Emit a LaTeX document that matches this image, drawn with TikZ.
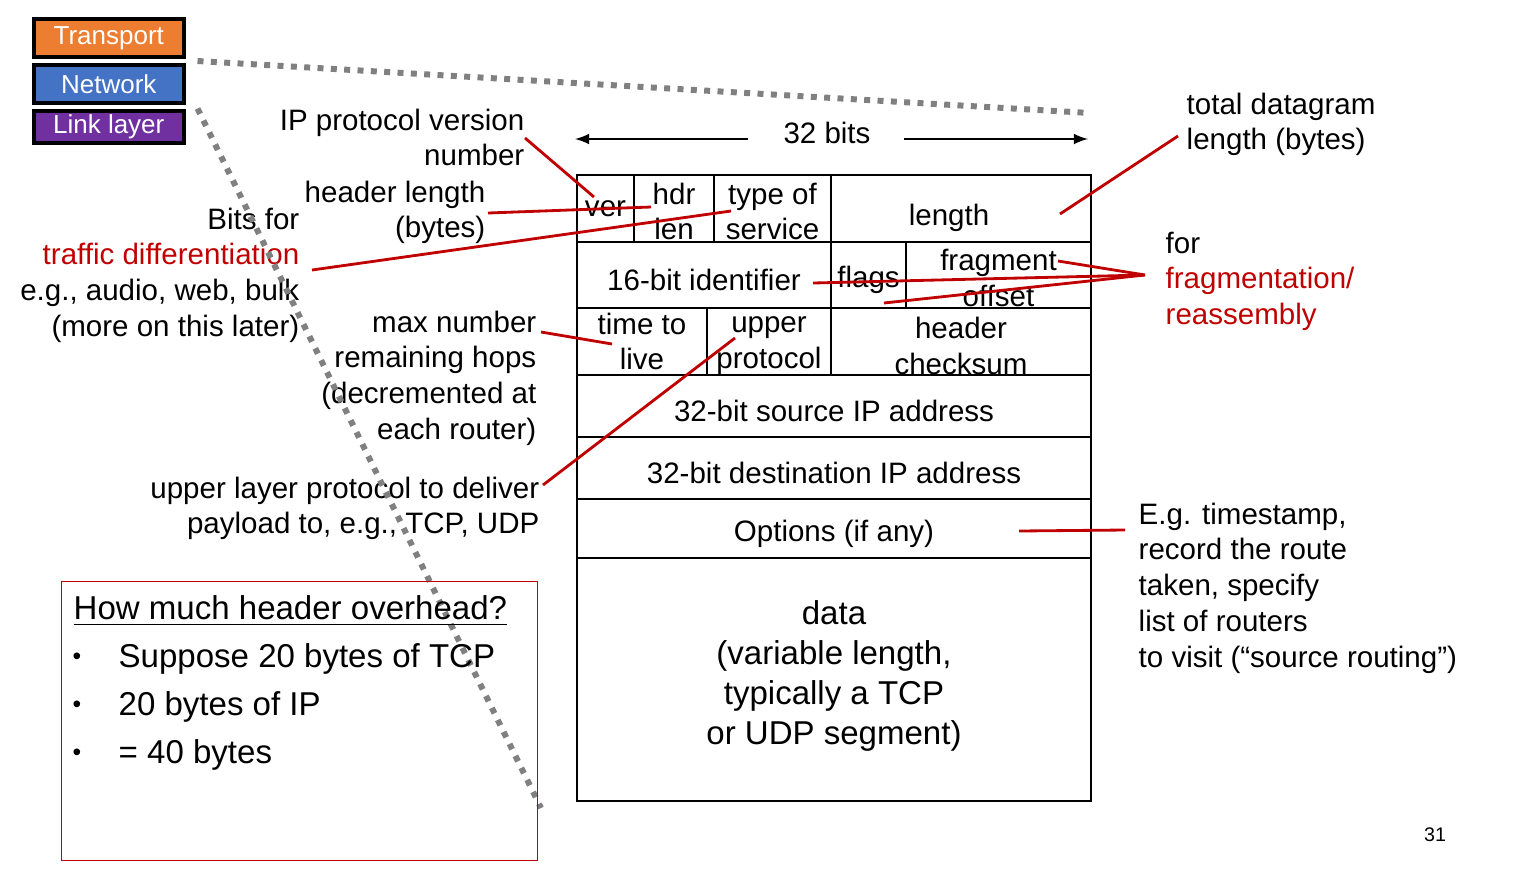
\documentclass[tikz,border=0pt]{standalone}
\usepackage{fontspec}
\setmainfont{Liberation Sans}
\usepackage{tikz}
\usetikzlibrary{chains,positioning}

\definecolor{annot}{HTML}{C00000}
\definecolor{tporange}{HTML}{ED7D31}
\definecolor{nwblue}{HTML}{4472C4}
\definecolor{lkpurple}{HTML}{7030A0}

\begin{document}
\begin{tikzpicture}[
    field/.style={draw,thick,inner sep=0pt,outer sep=0pt,align=center,font=\fontsize{8.4}{10.2}\selectfont},
    single/.style={execute at begin node={\rule{0pt}{9pt}}},
    note/.style={inner sep=0pt,align=right,font=\fontsize{8.4}{10.2}\selectfont},
    layer/.style={draw,line width=1pt,text=white,minimum width=1.50cm,inner sep=0pt,font=\fontsize{7.4}{8}\selectfont},
    pointer/.style={annot,line width=0.8pt},
    dotline/.style={gray,line width=1.7pt,dash pattern=on 1.7pt off 2.1pt}]
  \useasboundingbox (0,0) rectangle (15.38,-8.71);

  % protocol stack
  \begin{scope}[start chain=stack going below,node distance=0.45mm,shift={(0.32,-0.17)}]
    \node [layer,on chain=stack,anchor=north west,fill=tporange,minimum height=0.38cm] (tp) {Transport};
    \node [layer,on chain=stack,fill=nwblue,minimum height=0.38cm] (nw) {Network};
    \node [layer,on chain=stack,fill=lkpurple,minimum height=0.32cm] (lk) {Link layer};
  \end{scope}

  % datagram header, row by row
  \begin{scope}[start chain=r1 going right,node distance=0pt,shift={(5.77,-1.75)},
      field/.append style={minimum height=0.67cm}]
    \node [field,on chain=r1,anchor=north west,minimum width=0.57cm] (ver) {ver};
    \node [field,on chain=r1,minimum width=0.80cm] (hdr) {\rule{0pt}{7.8pt}hdr\\len};
    \node [field,on chain=r1,minimum width=1.17cm] (tos) {\rule{0pt}{7.8pt}type of\\service};
    \node [field,on chain=r1,minimum width=2.60cm] (len) {\rule{0pt}{11.5pt}length\hspace*{0.24cm}};
  \end{scope}
  \begin{scope}[start chain=r2 going right,node distance=0pt,shift={(5.77,-2.42)},
      field/.append style={minimum height=0.66cm}]
    \node [field,single,on chain=r2,anchor=north west,minimum width=2.54cm] (ident) {16-bit identifier};
    \node [field,single,on chain=r2,minimum width=0.75cm] (flags) {flags};
    \node [field,on chain=r2,minimum width=1.85cm] (frag) {\rule{0pt}{7.8pt}fragment\\offset};
  \end{scope}
  \begin{scope}[start chain=r3 going right,node distance=0pt,shift={(5.77,-3.08)},
      field/.append style={minimum height=0.67cm}]
    \node [field,on chain=r3,anchor=north west,minimum width=1.30cm] (ttl) {time to\\live};
    \node [field,on chain=r3,minimum width=1.24cm] (proto) {\rule{0pt}{7pt}upper\\protocol};
    \node [field,on chain=r3,minimum width=2.60cm] (csum) {\rule{0pt}{8.4pt}header\\checksum};
  \end{scope}
  \begin{scope}[start chain=body going below,node distance=0pt,shift={(5.77,-3.75)},
      field/.append style={minimum width=5.14cm}]
    \node [field,single,on chain=body,anchor=north west,minimum height=0.62cm] (src) {32-bit source IP address};
    \node [field,single,on chain=body,minimum height=0.62cm] (dst) {32-bit destination IP address};
    \node [field,single,on chain=body,minimum height=0.59cm] (opts) {Options (if any)};
    \node [field,on chain=body,minimum height=2.43cm,font=\fontsize{9.4}{11.4}\selectfont,
      execute at end node={\rule[-4.2pt]{0pt}{0pt}}] (data)
      {data\\(variable length,\\typically a TCP\\or UDP segment)};
  \end{scope}

  % width of a row
  \node [note,align=center] (width32) at (8.27,-1.33) {32 bits};
  \coordinate (w32) at (5.75,-1.39);
  \coordinate (e32) at (10.88,-1.39);
  \draw [->,>=latex] ([shift={(-0.35,-0.06)}]width32.west) -- (w32);
  \draw [->,>=latex] ([shift={(0.33,-0.06)}]width32.east) -- (e32);

  % notes on the left
  \node [note,anchor=north east] (ipver) at (5.25,-1.08) {IP protocol version\\number};
  \node [note,anchor=north east] (hlen) at (4.86,-1.80) {header length\\(bytes)};
  \node [note,anchor=north east] (tosnote) at (3.00,-2.07)
    {Bits for\\\textcolor{annot}{traffic differentiation}\\e.g., audio, web, bulk\\(more on this later)};
  \node [note,anchor=north east] (hops) at (5.37,-3.10)
    {max number\\remaining hops\\(decremented at\\each router)};
  \node [note,anchor=north east] (deliver) at (5.40,-4.76)
    {upper layer protocol to deliver\\payload to, e.g., TCP, UDP};

  % notes on the right
  \node [note,align=left,anchor=north west] (total) at (11.86,-0.92) {total datagram\\length (bytes)};
  \node [note,align=left,anchor=north west] (fragnote) at (11.65,-2.31)
    {for\\\textcolor{annot}{fragmentation/}\\\textcolor{annot}{reassembly}};
  \node [note,align=left,anchor=north west] (optnote) at (11.38,-5.02)
    {E.g. timestamp,\\record the route\\taken, specify\\list of routers\\to visit (“source routing”)};

  % where the notes point
  \coordinate (ver-tip) at (5.94,-1.97);
  \coordinate (hdr-tip) at (6.51,-2.07);
  \coordinate (tos-tip) at (7.31,-2.11);
  \coordinate (ttl-tip) at (6.12,-3.44);
  \coordinate (proto-tip) at (7.35,-3.38);
  \coordinate (len-tip) at (10.60,-2.14);
  \coordinate (frag-tip) at (10.58,-2.61);
  \coordinate (id-tip) at (8.13,-2.83);
  \coordinate (off-tip) at (8.84,-3.03);
  \coordinate (opt-tip) at (10.19,-5.31);
  \coordinate (frag-hub) at ([shift={(-0.20,-0.44)}]fragnote.north west);

  \draw [pointer] ([shift={(0,-0.30)}]ipver.north east) -- (ver-tip);
  \draw [pointer] ([shift={(0.02,-0.33)}]hlen.north east) -- (hdr-tip);
  \draw [pointer] ([shift={(0.12,-0.63)}]tosnote.north east) -- (tos-tip);
  \draw [pointer] ([shift={(0.04,-0.22)}]hops.north east) -- (ttl-tip);
  \draw [pointer] ([shift={(0.03,-0.09)}]deliver.north east) -- (proto-tip);
  \draw [pointer] ([shift={(-0.08,-0.44)}]total.north west) -- (len-tip);
  \draw [pointer] (frag-tip) -- (frag-hub) -- (id-tip);
  \draw [pointer] (frag-hub) -- (off-tip);
  \draw [pointer] ([shift={(-0.13,-0.28)}]optnote.north west) -- (opt-tip);

  % zoom lines from the network layer
  \coordinate (dg-top) at (10.90,-1.13);
  \coordinate (dg-bot) at (5.41,-8.08);
  \draw [dotline] ([shift={(0.12,0.02)}]nw.north east) -- (dg-top);
  \draw [dotline] ([shift={(0.12,-0.04)}]nw.south east) -- (dg-bot);

  % overhead question
  \node [draw=annot,anchor=north west,inner sep=0pt,minimum width=4.76cm,minimum height=2.79cm] (qbox) at (0.61,-5.81) {};
  \node [anchor=west,inner sep=0pt,font=\fontsize{9.4}{11.4}\selectfont] (qtitle) at (0.73,-6.11)
    {\underline{How much header overhead?}};
  \foreach \txt [count=\i] in {Suppose 20 bytes of TCP, 20 bytes of IP, = 40 bytes} {
    \node [anchor=west,inner sep=0pt,font=\fontsize{9.4}{11.4}\selectfont] (pt\i) at (1.18,-6.11-0.48*\i) {\txt};
    \node [inner sep=0pt,font=\fontsize{7}{8}\selectfont] (dot\i) at (0.77,-6.11-0.48*\i) {\textbullet};
  }

  \node [inner sep=0pt,font=\fontsize{5.6}{6.5}\selectfont] (pgnum) at (14.35,-8.35) {31};
\end{tikzpicture}
\end{document}
